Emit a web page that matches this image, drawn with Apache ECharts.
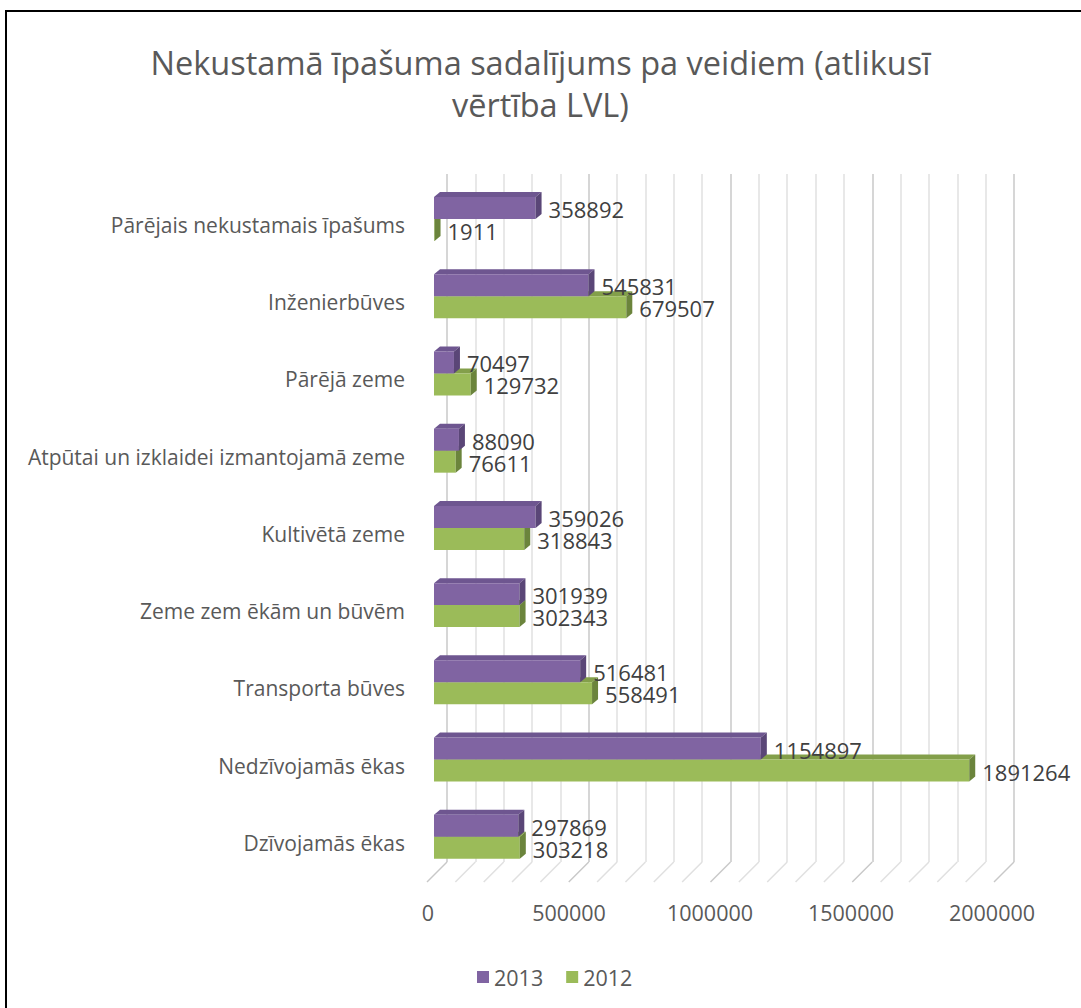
<!DOCTYPE html>
<html>
<head>
<meta charset="utf-8">
<script src="https://cdn.jsdelivr.net/npm/echarts@6/dist/echarts.min.js"></script>
<style>
  html, body { margin: 0; padding: 0; background: #fff; }
  #chart { width: 1081px; height: 1008px; position: absolute; left: 0; top: 0; }
  #frame { position: absolute; left: 5px; top: 10px; width: 1200px; height: 1200px;
           border-top: 2px solid #000; border-left: 2px solid #000; pointer-events: none; }
</style>
</head>
<body>
<div id="chart"></div>
<div id="frame"></div>
<script>
// ---- data ----
const titleText = 'Nekustamā īpašuma sadalījums pa veidiem (atlikusī\nvērtība LVL)';
const categories = [
  'Dzīvojamās ēkas',
  'Nedzīvojamās ēkas',
  'Transporta būves',
  'Zeme zem ēkām un būvēm',
  'Kultivētā zeme',
  'Atpūtai un izklaidei izmantojamā zeme',
  'Pārējā zeme',
  'Inženierbūves',
  'Pārējais nekustamais īpašums'
];
const values2013 = [297869, 1154897, 516481, 301939, 359026, 88090, 70497, 545831, 358892];
const values2012 = [303218, 1891264, 558491, 302343, 318843, 76611, 129732, 679507, 1911];
const seriesNames = ['2013', '2012'];
const axisTicks = [0, 500000, 1000000, 1500000, 2000000];
const gridTicks = [0, 100000, 200000, 300000, 400000, 500000, 600000, 700000, 800000, 900000, 1000000,
  1100000, 1200000, 1300000, 1400000, 1500000, 1600000, 1700000, 1800000, 1900000, 2000000];

// ---- styles ----
const FONT = 'Open Sans';
const purple = { front: '#8064A2', top: '#6E5690', side: '#5A4677' };
const green = { front: '#9BBB59', top: '#839F4A', side: '#6B843C' };
const DX = 6, DY = -5;

function barRenderer(offTop, offBot, col) {
  return function (params, api) {
    const v = api.value(0), c = api.value(1);
    const p0 = api.coord([0, c]);
    const p1 = api.coord([v, c]);
    const band = api.size([0, 1])[1];
    const y0 = p0[1] + offTop * band, y1 = p0[1] + offBot * band;
    const x0 = p0[0], x1 = p1[0];
    return {
      type: 'group',
      children: [
        { type: 'polygon', shape: { points: [[x0, y0], [x1, y0], [x1 + DX, y0 + DY], [x0 + DX, y0 + DY]] },
          style: { fill: col.top } },
        { type: 'rect', shape: { x: x0, y: y0, width: Math.max(x1 - x0, 0.5), height: y1 - y0 },
          style: { fill: col.front } },
        { type: 'polygon', shape: { points: [[x1, y0], [x1 + DX, y0 + DY], [x1 + DX, y1 + DY], [x1, y1]] },
          style: { fill: col.side } },
        { type: 'text', style: { text: String(v), x: x1 + 13, y: (y0 + y1) / 2 + 1,
          verticalAlign: 'middle', align: 'left', fontSize: 22, lineHeight: 21, fontFamily: FONT, fill: '#404040' } }
      ]
    };
  };
}

function floorRenderer(params, api) {
  const v = api.value(0);
  const p = api.coord([v, 0]);
  const major = v % 500000 === 0;
  return {
    type: 'line',
    shape: { x1: p[0], y1: p[1], x2: p[0] - 20, y2: p[1] + 20 },
    style: { stroke: major ? '#c8c8c8' : '#e0e0e0', lineWidth: 1.5 }
  };
}

const chart = echarts.init(document.getElementById('chart'), null, { renderer: 'svg' });
chart.setOption({
  backgroundColor: '#ffffff',
  animation: false,
  title: {
    text: titleText,
    left: 'center',
    top: 41,
    padding: [0, 0, 0, 22],
    textStyle: { fontFamily: FONT, fontSize: 32.5, fontWeight: 'normal', color: '#595959', lineHeight: 42 }
  },
  legend: {
    data: seriesNames,
    top: 966,
    left: 477,
    icon: 'rect',
    itemWidth: 12,
    itemHeight: 12,
    itemGap: 23,
    padding: 0,
    textStyle: { fontFamily: FONT, fontSize: 21.5, color: '#595959', padding: [0, 0, 0, 0] }
  },
  grid: [
    { left: 434, right: 81, top: 186.4, bottom: 126.6 },   // bars
    { left: 447, right: 67, top: 174, bottom: 146 },       // back wall
    { left: 428, right: 89, top: 174, bottom: 126 }        // floor front edge / labels
  ],
  xAxis: [
    { type: 'value', gridIndex: 0, min: 0, max: 2000000, interval: 500000,
      axisLabel: { show: false }, axisLine: { show: false }, axisTick: { show: false }, splitLine: { show: false } },
    { type: 'value', gridIndex: 1, min: 0, max: 2000000, interval: 100000,
      axisLabel: { show: false }, axisLine: { show: false }, axisTick: { show: false },
      splitLine: { show: true, lineStyle: { width: 1.5, color: ['#c8c8c8', '#e0e0e0', '#e0e0e0', '#e0e0e0', '#e0e0e0'] } } },
    { type: 'value', gridIndex: 2, min: 0, max: 2000000, interval: 500000,
      axisLine: { show: false }, axisTick: { show: false }, splitLine: { show: false },
      axisLabel: { margin: 19, fontFamily: FONT, fontSize: 21.5, color: '#595959',
        customValues: axisTicks, formatter: function (v) { return String(v); } } }
  ],
  yAxis: [
    { type: 'category', gridIndex: 0, data: categories,
      axisLine: { show: false }, axisTick: { show: false },
      axisLabel: { margin: 29, fontFamily: FONT, fontSize: 21, color: '#595959' } },
    { type: 'value', gridIndex: 1, min: 0, max: 1, show: false },
    { type: 'value', gridIndex: 2, min: 0, max: 1, show: false }
  ],
  series: [
    { type: 'custom', name: 'floor', xAxisIndex: 1, yAxisIndex: 1, silent: true,
      data: gridTicks.map(function (t) { return [t]; }), renderItem: floorRenderer,
      encode: { x: 0 } },
    { type: 'custom', name: seriesNames[1], xAxisIndex: 0, yAxisIndex: 0,
      itemStyle: { color: green.front },
      data: values2012.map(function (v, i) { return [v, i]; }),
      encode: { x: 0, y: 1 },
      renderItem: barRenderer(-6 / 77.25, 16 / 77.25, green) },
    { type: 'custom', name: seriesNames[0], xAxisIndex: 0, yAxisIndex: 0,
      itemStyle: { color: purple.front },
      data: values2013.map(function (v, i) { return [v, i]; }),
      encode: { x: 0, y: 1 },
      renderItem: barRenderer(-28 / 77.25, -6 / 77.25, purple) }
  ]
});
</script>
</body>
</html>
